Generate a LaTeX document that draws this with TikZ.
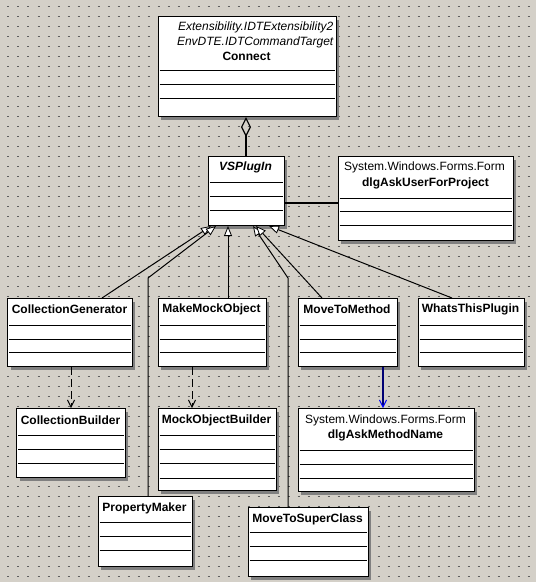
\documentclass[tikz,border=0pt]{standalone}
\usepackage{fontspec}
\setmainfont{Liberation Sans}
\usetikzlibrary{arrows.meta}
\usetikzlibrary{shadows}

\definecolor{bgcol}{HTML}{D4D0C8}
\definecolor{dotcol}{HTML}{5E5E5E}

\begin{document}
\begin{tikzpicture}[x=1pt,y=-1pt]
    \tikzset{classbox/.style = {shape=rectangle,draw,fill=white,line width=1pt,anchor=north west,inner sep=0pt,
        drop shadow={shadow xshift=3pt,shadow yshift=-3pt,fill=black!50,opacity=1}}}
    \tikzset{classname/.style = {font=\fontsize{12}{14}\selectfont\bfseries,inner sep=0pt}}
    \tikzset{stereo/.style = {font=\fontsize{12}{14}\selectfont,inner sep=0pt}}
    \tikzset{ital/.style = {font=\fontsize{12}{14}\selectfont\itshape,inner sep=0pt}}
    \tikzset{sep/.style = {line width=1pt}}
    \tikzset{griddot/.style = {draw=dotcol,line width=1pt,dash pattern=on 2pt off 8pt,dash phase=3pt}}
    \tikzset{gen/.style = {-{Triangle[length=10pt,width=8pt,fill=white,line width=0.8pt]},line width=1pt}}
    \tikzset{dep/.style = {-{Straight Barb[length=7pt,width=7pt]},line width=1pt,dash pattern=on 8pt off 4pt}}
    \tikzset{aggr/.style = {{Diamond[open,length=20pt,width=10pt,line width=1.2pt]}-,line width=1.8pt}}
    \tikzset{assoc/.style = {line width=1.8pt}}
    \tikzset{navig/.style = {draw=blue!45!black,line width=1.8pt,-{Straight Barb[length=7pt,width=7pt,color=blue,line width=1pt]}}}

    % background grid
    \fill[bgcol] (0,0) rectangle (535,582);
    \foreach \y in {6,16,...,576} \draw[griddot] (0,\y) -- (535,\y);
    \useasboundingbox (0,0) rectangle (535,582);

    % classes

    \node[classbox,minimum width=178pt,minimum height=100pt] (con) at (157,16) {};
    \node[ital,anchor=east] (con-s1) at (333,27) {Extensibility.IDTExtensibility2};
    \node[ital,anchor=east] (con-s2) at (333,42) {EnvDTE.IDTCommandTarget};
    \node[classname] (con-t) at (246,56) {Connect};

    \node[classbox,minimum width=76pt,minimum height=69pt] (vs) at (207,156) {};
    \node[classname,font=\fontsize{12}{14}\selectfont\bfseries\itshape] (vs-t) at (245,167) {VSPlugIn};

    \node[classbox,minimum width=175pt,minimum height=84pt] (dau) at (337,156) {};
    \node[stereo] (dau-s) at (424,167) {System.Windows.Forms.Form};
    \node[classname] (dau-t) at (425,183) {dlgAskUserForProject};

    \node[classbox,minimum width=124pt,minimum height=68pt] (cg) at (7,298) {};
    \node[classname] (cg-t) at (69,309) {CollectionGenerator};
    \node[classbox,minimum width=108pt,minimum height=68pt] (mm) at (157,298) {};
    \node[classname] (mm-t) at (211,309) {MakeMockObject};
    \node[classbox,minimum width=99pt,minimum height=68pt] (mtm) at (297,298) {};
    \node[classname] (mtm-t) at (346.5,309) {MoveToMethod};
    \node[classbox,minimum width=106pt,minimum height=68pt] (wtp) at (417,298) {};
    \node[classname] (wtp-t) at (470,309) {WhatsThisPlugin};

    \node[classbox,minimum width=108pt,minimum height=69pt] (cb) at (16,408) {};
    \node[classname] (cb-t) at (70,420) {CollectionBuilder};
    \node[classbox,minimum width=118pt,minimum height=82pt] (mob) at (157,408) {};
    \node[classname] (mob-t) at (216,420) {MockObjectBuilder};
    \node[classbox,minimum width=176pt,minimum height=83pt] (dam) at (297,408) {};
    \node[stereo] (dam-s) at (385,420) {System.Windows.Forms.Form};
    \node[classname] (dam-t) at (385,435) {dlgAskMethodName};

    \node[classbox,minimum width=94pt,minimum height=70pt] (pm) at (97,496) {};
    \node[classname] (pm-t) at (144,508) {PropertyMaker};
    \node[classbox,minimum width=120pt,minimum height=69pt] (ms) at (247,507) {};
    \node[classname] (ms-t) at (307,519) {MoveToSuperClass};

    % compartments
    \foreach \n/\ys in {con/{70,84,98},vs/{182,196,210},dau/{198,211,225},
                        cg/{325,339,352},mm/{325,339,352},mtm/{325,339,352},wtp/{325,339,352},
                        cb/{435,449,463},mob/{435,449,463,478},dam/{450,464,478},
                        pm/{522,536,550},ms/{532,546,560}}
        \foreach \y in \ys
            \draw[sep] ([xshift=2pt]\n.west |- 0,\y) -- ([xshift=-2pt]\n.east |- 0,\y);

    % edges

    \draw[aggr] (vs.north |- con.south) -- (vs.north);
    \draw[assoc] (vs.east |- 0,203) -- (dau.west |- 0,203);

    \draw[gen] ([xshift=32pt]cg.north) -- ([xshift=-35pt]vs.south);
    \draw[gen] ([xshift=3pt]pm.north) -- ++(0,-218) -- ([xshift=-30pt]vs.south);
    \draw[gen] ([xshift=16pt]mm.north) -- ([xshift=-18pt]vs.south);
    \draw[gen] ([xshift=-20pt]ms.north) -- ++(0,-229) -- ([xshift=7pt]vs.south);
    \draw[gen] ([xshift=-25.5pt]mtm.north) -- ([xshift=10pt]vs.south);
    \draw[gen] ([xshift=-19pt]wtp.north) -- ([xshift=23pt]vs.south);

    \draw[dep] (cb.north |- cg.south) -- (cb.north);
    \draw[dep] ([xshift=-20pt]mm.south) -- ([xshift=-20pt]mm.south |- mob.north);
    \draw[navig] ([xshift=35.5pt]mtm.south) -- ([xshift=35.5pt]mtm.south |- dam.north);
\end{tikzpicture}
\end{document}
